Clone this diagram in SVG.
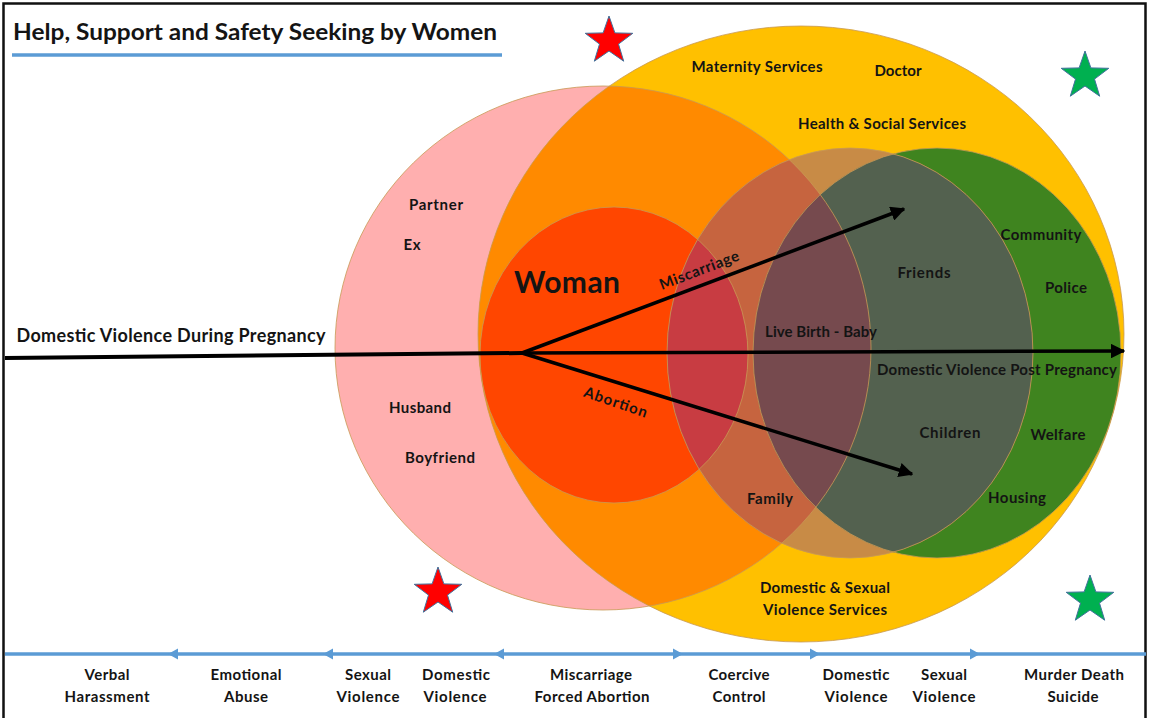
<svg xmlns="http://www.w3.org/2000/svg" width="1150" height="718" viewBox="0 0 1150 718">
  <style>
    .t { font-family: Lato, "Liberation Sans", sans-serif; font-weight: bold; fill: #141414; font-size: 15px; text-anchor: middle; }
    .big { font-size: 30px; }
    .mid { font-size: 18px; }
    .edge { fill: none; stroke: #c89a55; stroke-width: 1; stroke-opacity: 0.8; }
    .arr { stroke: #000; stroke-width: 3.5; fill: none; }
    .axis { stroke: #5b9bd5; stroke-width: 3.5; fill: none; }
    .star-r { fill: #ff0000; stroke: #41719c; stroke-width: 1; }
    .star-g { fill: #00b050; stroke: #41719c; stroke-width: 1; }
  </style>
  <defs>
    <ellipse id="pinkShape" cx="603" cy="348" rx="268" ry="262"/>
    <ellipse id="yellowShape" cx="801" cy="334" rx="323" ry="308"/>
    <ellipse id="womanShape" cx="614" cy="355" rx="134" ry="148"/>
    <ellipse id="familyShape" cx="850" cy="353" rx="183" ry="205"/>
    <ellipse id="greenShape" cx="937" cy="353" rx="184" ry="205"/>
    <clipPath id="clipYellow"><use href="#yellowShape"/></clipPath>
    <clipPath id="clipPink"><use href="#pinkShape"/></clipPath>
    <clipPath id="clipWoman"><use href="#womanShape"/></clipPath>
    <clipPath id="clipFamily"><use href="#familyShape"/></clipPath>
    <clipPath id="clipGreen"><use href="#greenShape"/></clipPath>
    <marker id="head" viewBox="0 0 10 10" refX="9" refY="5" markerWidth="4.2" markerHeight="4.2" orient="auto" markerUnits="strokeWidth">
      <path d="M0,0 L10,5 L0,10 Z" fill="#000"/>
    </marker>
    <path id="star" d="M0,-25 L5.9,-8.1 L23.8,-7.7 L9.5,3.1 L14.7,20.2 L0,10 L-14.7,20.2 L-9.5,3.1 L-23.8,-7.7 L-5.9,-8.1 Z"/>
  </defs>

  <!-- frame -->
  <rect x="0" y="0" width="1150" height="718" fill="#fff"/>
  <path d="M3.5,722 V3.5 H1145.5 V722" fill="none" stroke="#111" stroke-width="2.5"/>

  <!-- title -->
  <g id="title">
    <text class="t" x="255" y="40" style="font-size:23px" textLength="484" lengthAdjust="spacingAndGlyphs">Help, Support and Safety Seeking by Women</text>
    <line x1="12" y1="55" x2="502" y2="55" stroke="#5b9bd5" stroke-width="3.5"/>
  </g>

  <!-- circles: base fills -->
  <g id="circle-partner"><use href="#pinkShape" fill="#ffafaf"/></g>
  <g id="circle-services">
    <use href="#yellowShape" fill="#ffc000"/>
    <g clip-path="url(#clipYellow)"><use href="#pinkShape" fill="#ff8a00"/></g>
  </g>
  <g id="circle-woman"><use href="#womanShape" fill="#ff4600"/></g>
  <g id="circle-community"><use href="#greenShape" fill="#3f841f"/></g>
  <g id="circle-family">
    <use href="#familyShape" fill="#c88b46"/>
    <g clip-path="url(#clipFamily)">
      <use href="#pinkShape" fill="#c6643f"/>
      <use href="#womanShape" fill="#c83c42"/>
      <use href="#greenShape" fill="#53614f"/>
      <g clip-path="url(#clipGreen)"><use href="#pinkShape" fill="#764a4e"/></g>
    </g>
  </g>
  <!-- thin outlines -->
  <g id="outlines">
    <use href="#pinkShape" class="edge"/>
    <use href="#yellowShape" class="edge"/>
    <use href="#womanShape" class="edge"/>
    <use href="#familyShape" class="edge"/>
    <use href="#greenShape" class="edge"/>
  </g>

  <!-- stars -->
  <g id="stars">
    <use href="#star" class="star-r" transform="translate(609,41)"/>
    <use href="#star" class="star-r" transform="translate(438,592)"/>
    <use href="#star" class="star-g" transform="translate(1085,76)"/>
    <use href="#star" class="star-g" transform="translate(1090,600)"/>
  </g>

  <!-- connectors -->
  <g id="connectors">
    <line x1="5" y1="358" x2="522" y2="353" stroke="#000" stroke-width="4"/>
    <line class="arr" x1="522" y1="353" x2="1124" y2="351" marker-end="url(#head)"/>
    <line class="arr" x1="522" y1="353" x2="904" y2="209" marker-end="url(#head)"/>
    <line class="arr" x1="522" y1="353" x2="912" y2="474" marker-end="url(#head)"/>
  </g>

  <!-- node labels -->
  <g id="labels">
    <text class="t" x="757" y="72" textLength="131">Maternity Services</text>
    <text class="t" x="898" y="76" textLength="47">Doctor</text>
    <text class="t" x="882" y="129" textLength="168">Health &amp; Social Services</text>
    <text class="t" x="436" y="210" textLength="54">Partner</text>
    <text class="t" x="412" y="250" textLength="17">Ex</text>
    <text class="t big" x="567" y="293" textLength="106">Woman</text>
    <text class="t" x="924" y="278" textLength="53">Friends</text>
    <text class="t" x="1041" y="240" textLength="81">Community</text>
    <text class="t" x="1066" y="293" textLength="42">Police</text>
    <text class="t" x="821" y="337" textLength="112">Live Birth - Baby</text>
    <text class="t" x="997" y="375" textLength="240">Domestic Violence Post Pregnancy</text>
    <text class="t mid" x="171" y="342" textLength="309">Domestic Violence During Pregnancy</text>
    <text class="t" x="420" y="413" textLength="62">Husband</text>
    <text class="t" x="440" y="463" textLength="70">Boyfriend</text>
    <text class="t" x="950" y="438" textLength="61">Children</text>
    <text class="t" x="1058" y="440" textLength="55">Welfare</text>
    <text class="t" x="770" y="504" textLength="46">Family</text>
    <text class="t" x="1017" y="503" textLength="58">Housing</text>
    <text class="t" x="825" y="593" textLength="130">Domestic &amp; Sexual</text>
    <text class="t" x="825" y="615" textLength="124">Violence Services</text>
    <text class="t" transform="translate(701,275) rotate(-21)" textLength="84">Miscarriage</text>
    <text class="t" transform="translate(614,407) rotate(19)" textLength="66">Abortion</text>
  </g>

  <!-- timeline along the bottom -->
  <g id="timeline">
    <line class="axis" x1="5" y1="654" x2="1146" y2="654"/>
    <path d="M168,654 l10,-5.5 v11 Z M323,654 l10,-5.5 v11 Z M494,654 l10,-5.5 v11 Z" fill="#5b9bd5"/>
    <path d="M683,654 l-10,-5.5 v11 Z M820,654 l-10,-5.5 v11 Z M980,654 l-10,-5.5 v11 Z" fill="#5b9bd5"/>
    <text class="t" x="107" y="680" textLength="45">Verbal</text>
    <text class="t" x="107" y="702" textLength="85">Harassment</text>
    <text class="t" x="246" y="680" textLength="71">Emotional</text>
    <text class="t" x="246" y="702" textLength="44">Abuse</text>
    <text class="t" x="368" y="680" textLength="46">Sexual</text>
    <text class="t" x="368" y="702" textLength="63">Violence</text>
    <text class="t" x="456" y="680" textLength="68">Domestic</text>
    <text class="t" x="455" y="702" textLength="63">Violence</text>
    <text class="t" x="591" y="680" textLength="82">Miscarriage</text>
    <text class="t" x="592" y="702" textLength="115">Forced Abortion</text>
    <text class="t" x="739" y="680" textLength="61">Coercive</text>
    <text class="t" x="739" y="702" textLength="53">Control</text>
    <text class="t" x="856" y="680" textLength="67">Domestic</text>
    <text class="t" x="856" y="702" textLength="63">Violence</text>
    <text class="t" x="944" y="680" textLength="46">Sexual</text>
    <text class="t" x="944" y="702" textLength="63">Violence</text>
    <text class="t" x="1074" y="680" textLength="100">Murder Death</text>
    <text class="t" x="1073" y="702" textLength="51">Suicide</text>
  </g>
</svg>
